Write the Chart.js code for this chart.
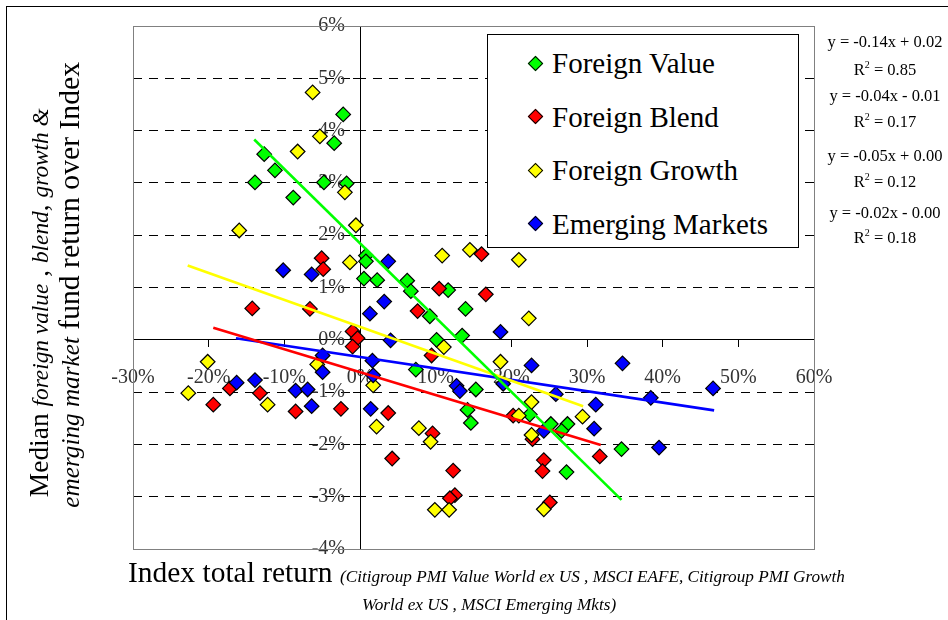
<!DOCTYPE html>
<html><head><meta charset="utf-8">
<script src="https://cdn.jsdelivr.net/npm/chart.js@4.4.0/dist/chart.umd.min.js"></script>
<style>
html,body{margin:0;padding:0;background:#fff;}
#wrap{position:relative;width:948px;height:620px;overflow:hidden;font-family:"Liberation Serif","Times New Roman",serif;color:#000;background:#fff;}
#c{position:absolute;left:0;top:0;}
#outer{position:absolute;left:6px;top:6px;width:1000px;height:1000px;border:1.5px solid #000;pointer-events:none;}
#legend{position:absolute;left:487px;top:34px;width:310px;height:212px;border:1.5px solid #000;background:#fff;}
.li{position:absolute;left:64px;height:34px;line-height:34px;font-size:29px;white-space:nowrap;}
.mk{position:absolute;width:9px;height:9px;border:1px solid #000;transform:rotate(45deg);}
.eq{position:absolute;width:150px;text-align:center;font-size:16.5px;line-height:20px;height:20px;white-space:nowrap;}
.eq sup{font-size:10px;vertical-align:7px;line-height:0;}
.yt{position:absolute;white-space:nowrap;text-align:center;line-height:1;transform:rotate(-90deg);}
.yt i{font-size:0.85em;}
#xt1{position:absolute;left:128px;top:558px;white-space:nowrap;line-height:1;}
#xt2{position:absolute;white-space:nowrap;line-height:1;font-style:italic;}
</style></head>
<body>
<div id="wrap">
<canvas id="c" width="948" height="620"></canvas>
<div id="outer"></div>
<div id="legend"></div>
<div id="eqs"></div>
<div class="yt" id="yt1"><span>Median </span><i>foreign value</i><span> , </span><i>blend</i><span>, </span><i>growth &amp;</i></div>
<div class="yt" id="yt2"><i>emerging market</i><span> fund return over Index</span></div>
<div id="xt1"><span id="xt1a" style="font-size:30px">Index total return </span><span id="xt1b" style="font-style:italic;font-size:16px">(Citigroup PMI Value World ex US , MSCI EAFE, Citigroup PMI Growth</span></div>
<div id="xt2" style="font-size:16px">World ex US , MSCI Emerging Mkts)</div>
</div>
<script>
// ---- data (percent units) ----
const seriesNames = ['Foreign Value', 'Foreign Blend', 'Foreign Growth', 'Emerging Markets'];

const valueX = [-2.22, -3.41, -12.66, -11.24, -13.88, -8.82, -4.77, -1.77, 0.78, 0.78, 0.52, 2.27, 6.24, 6.72, 11.65, 9.23, 13.95, 13.5, 10.12, 7.38, 15.31, 14.21, 14.65, 22.44, 25.22, 27.42, 26.63, 27.29, 34.56];
const valueY = [4.31, 3.76, 3.55, 3.24, 3.01, 2.72, 3.01, 2.99, 1.61, 1.50, 1.17, 1.14, 1.13, 0.93, 0.95, 0.45, 0.59, 0.08, 0.0, -0.57, -0.95, -1.34, -1.59, -1.43, -1.61, -1.61, -1.74, -2.53, -2.09];

const blendX = [-5.07, -4.86, -14.24, -6.62, -0.98, -0.32, -0.98, 10.46, 7.61, 16.06, 16.63, 9.46, -17.19, -13.22, -19.39, -8.51, -2.52, 3.73, 9.59, 4.25, 12.31, 12.54, 11.88, 20.24, 22.8, 24.29, 24.12, 25.09, 31.69];
const blendY = [1.56, 1.35, 0.60, 0.59, 0.16, 0.03, -0.13, 0.98, 0.55, 1.64, 0.87, -0.30, -0.93, -1.02, -1.24, -1.37, -1.32, -1.40, -1.79, -2.27, -2.50, -2.97, -3.03, -1.45, -1.90, -2.30, -2.51, -3.11, -2.23];

const growthX = [-6.26, -5.30, -8.24, -2.0, -15.96, -0.54, -1.33, 10.86, 14.52, 20.99, 22.31, 11.08, 18.57, -20.13, -22.69, -12.21, -5.65, 1.74, 2.19, 7.78, 9.33, 9.89, 11.78, 22.67, 20.99, 22.67, 24.29, 29.41];
const growthY = [4.73, 3.89, 3.60, 2.82, 2.09, 2.19, 1.48, 1.61, 1.72, 1.53, 0.41, -0.14, -0.42, -0.42, -1.02, -1.24, -0.47, -0.87, -1.66, -1.69, -1.95, -3.25, -3.25, -1.19, -1.45, -1.82, -3.24, -1.47];

const emX = [-10.15, -6.39, 3.73, 3.20, 1.31, 4.04, 1.64, 18.57, 22.67, -4.94, -16.30, -13.88, -8.51, -6.92, -6.39, -4.94, 1.41, 1.74, 12.76, 13.20, 18.92, 24.29, 25.88, 31.16, 30.94, 34.69, 38.43, 39.52, 46.66];
const emY = [1.33, 1.25, 1.50, 0.73, 0.50, -0.01, -0.40, 0.15, -0.49, -0.30, -0.82, -0.77, -0.97, -0.95, -1.27, -0.62, -1.32, -0.68, -0.88, -0.98, -0.84, -1.74, -1.04, -1.24, -1.70, -0.45, -1.11, -2.06, -0.93];

// trend line end points
const trendValueX = [-13.98, 34.56];  const trendValueY = [3.83, -3.06];
const trendBlendX = [-19.39, 31.82];  const trendBlendY = [0.23, -2.01];
const trendGrowthX = [-22.77, 29.49]; const trendGrowthY = [1.42, -1.27];
const trendEmX = [-16.4, 46.8];       const trendEmY = [0.03, -1.35];

const xTickValues = [-30, -20, -10, 0, 10, 20, 30, 40, 50, 60];
const yTickValues = [-4, -3, -2, -1, 0, 1, 2, 3, 4, 5, 6];

const equations = ['y = -0.14x + 0.02', 'y = -0.04x - 0.01', 'y = -0.05x + 0.00', 'y = -0.02x - 0.00'];
const rSquared = ['0.85', '0.17', '0.12', '0.18'];

// ---- styles ----
const colors = ['#00FF00', '#FF0000', '#FFFF00', '#0000FF'];
const pts = (xs, ys) => xs.map((x, i) => ({x: x, y: ys[i]}));
const serif = '"Liberation Serif", "Times New Roman", serif';
const NB = '\u00a0';

const scatterSets = [[valueX, valueY], [blendX, blendY], [growthX, growthY], [emX, emY]];
const trendSets = [[trendValueX, trendValueY], [trendBlendX, trendBlendY], [trendGrowthX, trendGrowthY], [trendEmX, trendEmY]];

const datasets = [];
trendSets.forEach((s, i) => {
  datasets.push({label: seriesNames[i] + ' trend', data: pts(s[0], s[1]), showLine: true, pointRadius: 0,
    borderColor: colors[i], borderWidth: 2.6, fill: false, order: 0});
});
scatterSets.forEach((s, i) => {
  datasets.push({label: seriesNames[i], data: pts(s[0], s[1]), pointStyle: 'rectRot', pointRadius: 7.3,
    backgroundColor: colors[i], borderColor: '#000', borderWidth: 1.2, order: 4 - i});
});

const framePlugin = {
  id: 'frame',
  beforeDatasetsDraw(chart) {
    const {ctx, chartArea: a} = chart;
    ctx.save();
    ctx.strokeStyle = '#808080';
    ctx.lineWidth = 1;
    ctx.strokeRect(Math.round(a.left) + 0.5, Math.round(a.top) + 0.5, Math.round(a.right - a.left), Math.round(a.bottom - a.top));
    ctx.restore();
  }
};

new Chart(document.getElementById('c'), {
  type: 'scatter',
  data: {datasets: datasets},
  options: {
    responsive: false, animation: false, events: [],
    layout: {padding: {left: 133, top: 26, right: 134, bottom: 71}},
    plugins: {legend: {display: false}, tooltip: {enabled: false}},
    scales: {
      x: {
        type: 'linear', min: -30, max: 60, position: {y: 0},
        afterBuildTicks: s => { s.ticks = xTickValues.map(v => ({value: v})); },
        afterFit: s => { s.height = 0; s.paddingLeft = 0; s.paddingRight = 0; s.paddingTop = 0; s.paddingBottom = 0; },
        grid: {drawOnChartArea: false, drawTicks: true, tickLength: 7, color: '#000', tickColor: '#000'},
        border: {display: true, color: '#000', width: 1},
        ticks: {padding: 19, color: '#333', font: {family: serif, size: 20}, callback: v => v + '%', maxRotation: 0, autoSkip: false}
      },
      y: {
        type: 'linear', min: -4, max: 6, position: {x: 0},
        afterBuildTicks: s => { s.ticks = yTickValues.map(v => ({value: v})); },
        afterFit: s => { s.width = 0; s.paddingLeft = 0; s.paddingRight = 0; s.paddingTop = 0; s.paddingBottom = 0; },
        grid: {drawOnChartArea: true, drawTicks: true, tickLength: 7, color: '#000', tickColor: '#000', lineWidth: 1},
        border: {display: true, color: '#000', width: 1, dash: [9, 7]},
        ticks: {padding: 10, color: '#333', font: {family: serif, size: 20}, callback: v => v + '%' + NB + NB + NB, autoSkip: false}
      }
    }
  },
  plugins: [framePlugin]
});

// ---- legend ----
const leg = document.getElementById('legend');
seriesNames.forEach((n, i) => {
  const cy = 28 + i * 53.5;
  const mk = document.createElement('div');
  mk.className = 'mk';
  mk.style.background = colors[i];
  mk.style.left = (47 - 5.5) + 'px';
  mk.style.top = (cy - 5.5) + 'px';
  leg.appendChild(mk);
  const t = document.createElement('div');
  t.className = 'li';
  t.style.top = (cy - 17) + 'px';
  t.textContent = n;
  leg.appendChild(t);
});

// ---- equations ----
const eqBox = document.getElementById('eqs');
const eqCenters = [[41.7, 70], [96, 121.7], [156, 182], [212.7, 238]];
equations.forEach((e, i) => {
  const a = document.createElement('div');
  a.className = 'eq'; a.style.left = (885 - 75) + 'px'; a.style.top = (eqCenters[i][0] - 10) + 'px';
  a.textContent = e; eqBox.appendChild(a);
  const b = document.createElement('div');
  b.className = 'eq'; b.style.left = (885 - 75) + 'px'; b.style.top = (eqCenters[i][1] - 10) + 'px';
  b.innerHTML = 'R<sup>2</sup> = ' + rSquared[i]; eqBox.appendChild(b);
});

// ---- titles: fit to measured widths ----
function fitSpan(el, target) {
  const fs = parseFloat(getComputedStyle(el).fontSize);
  const w = el.getBoundingClientRect().width;
  el.style.fontSize = (fs * target / w) + 'px';
}
function placeY(el, target, cx, cy) {
  el.style.fontSize = '29px';
  const w0 = el.offsetWidth;
  const fs = 29 * target / w0;
  el.style.fontSize = fs + 'px';
  const w = el.offsetWidth, h = el.offsetHeight;
  el.style.left = (cx - w / 2) + 'px';
  el.style.top = (cy - h / 2) + 'px';
}
placeY(document.getElementById('yt1'), 389, 39, 302);
placeY(document.getElementById('yt2'), 446, 70, 285);
fitSpan(document.getElementById('xt1a'), 212);
fitSpan(document.getElementById('xt1b'), 505);
const xt2 = document.getElementById('xt2');
xt2.style.fontSize = document.getElementById('xt1b').style.fontSize;
const w2 = xt2.offsetWidth;
xt2.style.left = (489 - w2 / 2) + 'px';
xt2.style.top = '596px';
</script>
</body></html>
